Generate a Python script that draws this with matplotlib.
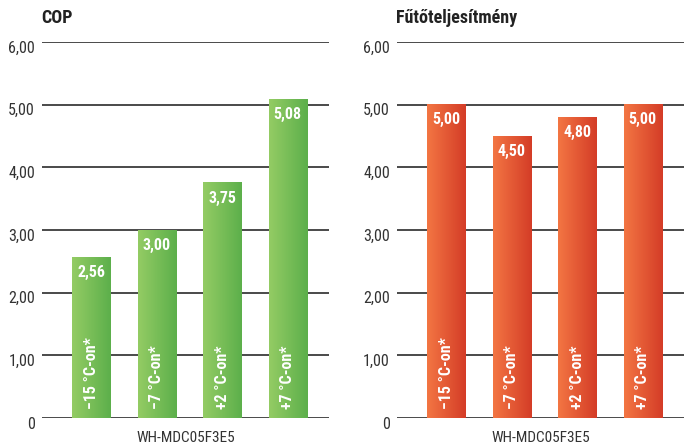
import numpy as np
import matplotlib
matplotlib.use("Agg")
import matplotlib.pyplot as plt
from matplotlib import font_manager
from matplotlib.font_manager import FontProperties
from matplotlib.colors import LinearSegmentedColormap
from matplotlib.transforms import offset_copy

# Data
categories = ["\u221215 \u00b0C-on*", "\u22127 \u00b0C-on*", "+2 \u00b0C-on*", "+7 \u00b0C-on*"]
cop_values = [2.56, 3.00, 3.75, 5.08]
heat_values = [5.00, 4.50, 4.80, 5.00]
y_ticks = [0, 1, 2, 3, 4, 5, 6]
y_tick_labels = ["0", "1,00", "2,00", "3,00", "4,00", "5,00", "6,00"]
titles = ["COP", "F\u0171t\u0151teljes\u00edtm\u00e9ny"]
model = "WH-MDC05F3E5"


def find_font(bold):
    """Pick a narrow sans face if one is installed."""
    cands = []
    for f in font_manager.fontManager.ttflist:
        key = (f.name + " " + f.fname).lower()
        narrow = ("condensed" in key or "narrow" in key
                  or f.stretch in ("condensed", "semi-condensed", "extra-condensed"))
        if not narrow or "oblique" in key or "italic" in key or f.style != "normal":
            continue
        w = f.weight if isinstance(f.weight, int) else (700 if "bold" in str(f.weight) else 400)
        is_bold = w >= 600 or "bold" in key
        if is_bold != bold:
            continue
        rank = 5
        for r, tag in enumerate(["roboto", "open sans", "liberation", "dejavu", "noto"]):
            if tag in key:
                rank = r
                break
        cands.append((rank, f.fname))
    if cands:
        cands.sort()
        return FontProperties(fname=cands[0][1])
    fp = FontProperties(family="DejaVu Sans")
    if bold:
        fp.set_weight("bold")
    return fp


fp_reg = find_font(False)
fp_bold = find_font(True)


def fprop(bold, size):
    fp = (fp_bold if bold else fp_reg).copy()
    fp.set_size(size)
    return fp


green = LinearSegmentedColormap.from_list("g", ["#94cc64", "#5caf4b"])
orange = LinearSegmentedColormap.from_list("o", ["#f37643", "#d43c27"])
grad = np.linspace(0, 1, 256).reshape(1, -1)

fig = plt.figure(figsize=(6.88, 4.48), dpi=100)

panels = [
    (42 / 688, cop_values, green),
    (397 / 688, heat_values, orange),
]
ax_bottom = (448 - 418) / 448
ax_height = 376 / 448
ax_width = 287 / 688
bar_w = 0.58

for i, (left, values, cmap) in enumerate(panels):
    ax = fig.add_axes([left, ax_bottom, ax_width, ax_height])
    for s in ax.spines.values():
        s.set_visible(False)
    ax.set_xticks([])
    ax.set_yticks([])
    for t in y_ticks:
        ax.axhline(t, color="#4a4a4a", lw=1.4, zorder=0.5)
    # tick labels sit just below each gridline
    lab_tr = offset_copy(ax.get_yaxis_transform(), fig=fig, x=-7, y=-6, units="dots")
    for t, lab in zip(y_ticks, y_tick_labels):
        ax.text(0, t, lab, transform=lab_tr, ha="right", va="center",
                fontproperties=fprop(False, 11.5), color="#333333")
    for j, (cat, v) in enumerate(zip(categories, values)):
        ax.imshow(grad, cmap=cmap, extent=(j - bar_w / 2, j + bar_w / 2, 0, v),
                  aspect="auto", zorder=3, interpolation="bicubic")
        val_tr = offset_copy(ax.transData, fig=fig, x=0, y=-15, units="dots")
        ax.text(j, v, f"{v:.2f}".replace(".", ","), transform=val_tr,
                ha="center", va="center", color="white",
                fontproperties=fprop(True, 11.5), zorder=4)
        cat_tr = offset_copy(ax.transData, fig=fig, x=0, y=9, units="dots")
        ax.text(j, 0, cat, transform=cat_tr, rotation=90, ha="center",
                va="bottom", color="white", fontproperties=fprop(True, 11.5),
                zorder=4)
    ax.set_xlim(-0.75, 3.63)
    ax.set_ylim(0, 6)
    fig.text(left - 1 / 688, 1 - 18 / 448, titles[i], ha="left", va="center",
             fontproperties=fprop(True, 13), color="#222222")
    fig.text(left + ax_width / 2, 1 - 438 / 448, model, ha="center",
             va="center", fontproperties=fprop(False, 11), color="#333333")

fig.savefig("out.png", dpi=100)
